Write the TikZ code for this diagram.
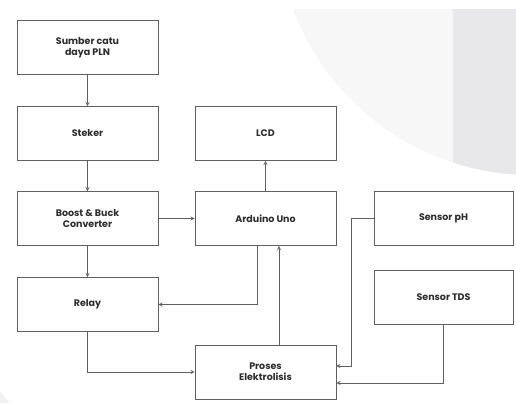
\documentclass[tikz,border=0pt]{standalone}
\usepackage{fontspec}
\setmainfont{Poppins}
\usetikzlibrary{shapes, arrows, calc}
\definecolor{linegray}{RGB}{95,95,95}
\definecolor{textgray}{RGB}{45,45,45}
\definecolor{faintgray}{RGB}{247,247,247}
\definecolor{bandgray}{RGB}{232,232,234}
\tikzstyle{blok}=[draw=linegray, line width=0.9pt, align=center,
    text=textgray, font=\fontsize{9.5}{11}\selectfont\bfseries,
    minimum width=141pt, minimum height=54pt, inner sep=0pt]
\tikzstyle{panah}=[->, >=stealth, draw=linegray, line width=0.8pt]
\begin{document}
\begin{tikzpicture}[x=1pt, y=-1pt]
  \useasboundingbox (0,0) rectangle (516,403);
  %\draw[step=10pt,gray,very thin] (0,0) grid (516,403);

  % faint background
  \begin{scope}
    \clip (0,10) rectangle (516,403);
    \fill[faintgray] (532,-80) circle (255pt);
    \clip (453,10) rectangle (516,403);
    \fill[bandgray] (532,-80) circle (255pt);
  \end{scope}
  \fill[faintgray!60!bandgray] (0,403) -- (10,403) -- (0,391) -- cycle;

  %
  \node[blok] (SPLN) at (87.5,47.5) {Sumber catu\\daya PLN};
  \node[blok] (Steker) at (87.5,133.5) {Steker};
  \node[blok] (BBC) at (87.5,218.5) {Boost \& Buck\\Converter};
  \node[blok] (Relay) at (87.5,304.5) {Relay};

  \node[blok] (LCD) at (265.5,133.5) {LCD};
  \node[blok] (Ard) at (265.5,218.5) {Arduino Uno};
  \node[blok] (Proses) at (265.5,372) {Proses\\Elektrolisis};

  \node[blok, minimum width=139pt] (pH) at (443.5,218.5) {Sensor pH};
  \node[blok, minimum width=139pt] (TDS) at (443.5,297) {Sensor TDS};

  %
  \draw[panah] (SPLN) -- (Steker);
  \draw[panah] (Steker) -- (BBC);
  \draw[panah] (BBC) -- (Relay);
  \draw[panah] (BBC) -- (Ard);
  \draw[panah] (Ard) -- (LCD);
  \draw[panah] ([xshift=-8.5pt]Ard.south) |- (Relay.east);
  \draw[panah] (Relay.south) |- (Proses.west);
  \draw[panah] ([xshift=13.5pt]Proses.north) -- ([xshift=13.5pt]Ard.south);

  %
  \coordinate (phturn) at (351,221);
  \draw[panah] (pH.west) -- (pH.west -| phturn) |- ([yshift=6pt]Proses.east);
  \draw[panah] (TDS.south) |- ([yshift=-11pt]Proses.east);
\end{tikzpicture}
\end{document}
